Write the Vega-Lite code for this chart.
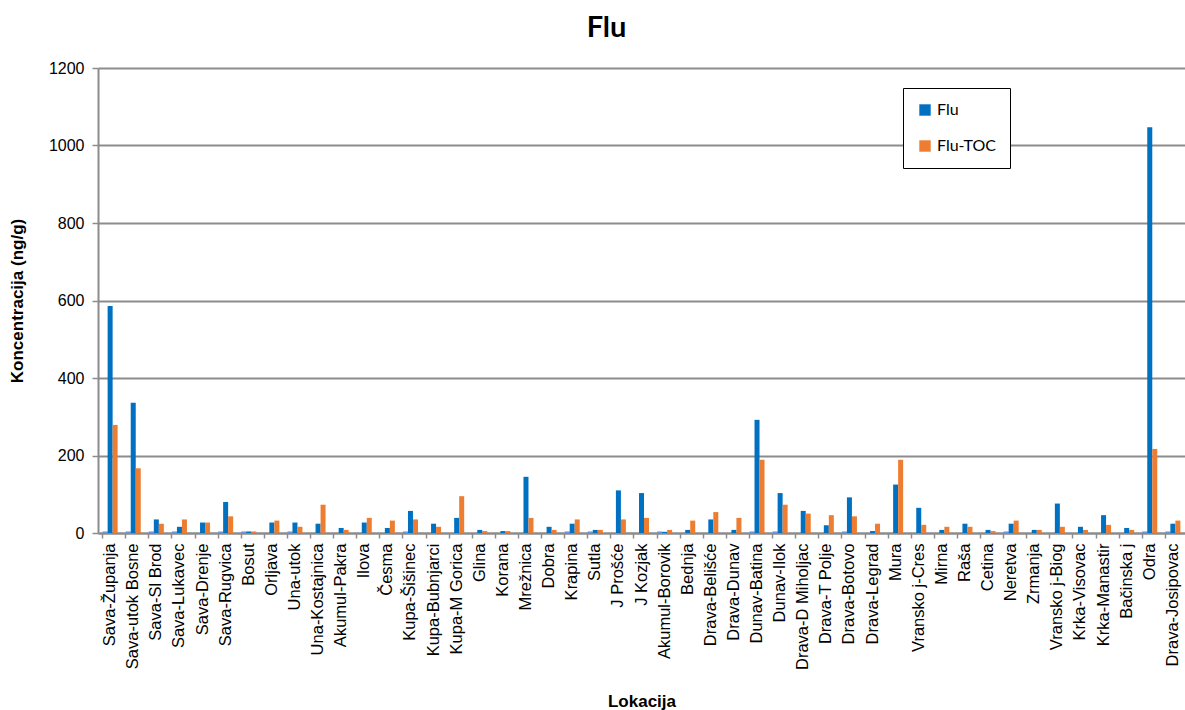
{
  "$schema": "https://vega.github.io/schema/vega-lite/v6.json",
  "width": 1087,
  "height": 465,
  "autosize": {"type": "none"},
  "padding": {"left": 98, "top": 68, "right": 0, "bottom": 177},
  "background": "white",
  "title": {"text": "Flu", "font": "Lato", "fontSize": 29, "fontWeight": "bold", "color": "black", "anchor": "middle", "dx": -35, "offset": -1},
  "config": {"view": {"stroke": null}},
  "data": {"values": [
    {"lok": "Sava-Županja", "Flu-0": 4, "Flu": 586, "Flu-TOC": 279},
    {"lok": "Sava-utok Bosne", "Flu-0": 4, "Flu": 336, "Flu-TOC": 167},
    {"lok": "Sava-Sl Brod", "Flu-0": 4, "Flu": 35, "Flu-TOC": 24},
    {"lok": "Sava-Lukavec", "Flu-0": 4, "Flu": 16, "Flu-TOC": 35},
    {"lok": "Sava-Drenje", "Flu-0": 0, "Flu": 27, "Flu-TOC": 27},
    {"lok": "Sava-Rugvica", "Flu-0": 4, "Flu": 80, "Flu-TOC": 43},
    {"lok": "Bosut", "Flu-0": 4, "Flu": 4, "Flu-TOC": 4},
    {"lok": "Orljava", "Flu-0": 0, "Flu": 27, "Flu-TOC": 32},
    {"lok": "Una-utok", "Flu-0": 4, "Flu": 27, "Flu-TOC": 16},
    {"lok": "Una-Kostajnica", "Flu-0": 0, "Flu": 24, "Flu-TOC": 73},
    {"lok": "Akumul-Pakra", "Flu-0": 0, "Flu": 13, "Flu-TOC": 8},
    {"lok": "Ilova", "Flu-0": 0, "Flu": 27, "Flu-TOC": 39},
    {"lok": "Česma", "Flu-0": 0, "Flu": 13, "Flu-TOC": 32},
    {"lok": "Kupa-Šišinec", "Flu-0": 4, "Flu": 57, "Flu-TOC": 35},
    {"lok": "Kupa-Bubnjarci", "Flu-0": 0, "Flu": 24, "Flu-TOC": 16},
    {"lok": "Kupa-M Gorica", "Flu-0": 0, "Flu": 39, "Flu-TOC": 95},
    {"lok": "Glina", "Flu-0": 0, "Flu": 8, "Flu-TOC": 5},
    {"lok": "Korana", "Flu-0": 0, "Flu": 5, "Flu-TOC": 5},
    {"lok": "Mrežnica", "Flu-0": 0, "Flu": 145, "Flu-TOC": 39},
    {"lok": "Dobra", "Flu-0": 0, "Flu": 16, "Flu-TOC": 8},
    {"lok": "Krapina", "Flu-0": 4, "Flu": 24, "Flu-TOC": 35},
    {"lok": "Sutla", "Flu-0": 4, "Flu": 8, "Flu-TOC": 8},
    {"lok": "J Prošće", "Flu-0": 0, "Flu": 110, "Flu-TOC": 35},
    {"lok": "J Kozjak", "Flu-0": 0, "Flu": 103, "Flu-TOC": 39},
    {"lok": "Akumul-Borovik", "Flu-0": 4, "Flu": 3, "Flu-TOC": 8},
    {"lok": "Bednja", "Flu-0": 0, "Flu": 8, "Flu-TOC": 32},
    {"lok": "Drava-Belišće", "Flu-0": 0, "Flu": 35, "Flu-TOC": 54},
    {"lok": "Drava-Dunav", "Flu-0": 0, "Flu": 8, "Flu-TOC": 39},
    {"lok": "Dunav-Batina", "Flu-0": 4, "Flu": 292, "Flu-TOC": 189},
    {"lok": "Dunav-Ilok", "Flu-0": 4, "Flu": 103, "Flu-TOC": 73},
    {"lok": "Drava-D Miholjac", "Flu-0": 0, "Flu": 57, "Flu-TOC": 50},
    {"lok": "Drava-T Polje", "Flu-0": 0, "Flu": 20, "Flu-TOC": 46},
    {"lok": "Drava-Botovo", "Flu-0": 4, "Flu": 92, "Flu-TOC": 43},
    {"lok": "Drava-Legrad", "Flu-0": 0, "Flu": 5, "Flu-TOC": 24},
    {"lok": "Mura", "Flu-0": 0, "Flu": 125, "Flu-TOC": 189},
    {"lok": "Vransko j-Cres", "Flu-0": 0, "Flu": 65, "Flu-TOC": 21},
    {"lok": "Mirna", "Flu-0": 0, "Flu": 8, "Flu-TOC": 16},
    {"lok": "Raša", "Flu-0": 0, "Flu": 24, "Flu-TOC": 16},
    {"lok": "Cetina", "Flu-0": 0, "Flu": 8, "Flu-TOC": 5},
    {"lok": "Neretva", "Flu-0": 4, "Flu": 24, "Flu-TOC": 32},
    {"lok": "Zrmanja", "Flu-0": 0, "Flu": 8, "Flu-TOC": 8},
    {"lok": "Vransko j-Biog", "Flu-0": 0, "Flu": 76, "Flu-TOC": 16},
    {"lok": "Krka-Visovac", "Flu-0": 0, "Flu": 16, "Flu-TOC": 8},
    {"lok": "Krka-Manastir", "Flu-0": 0, "Flu": 46, "Flu-TOC": 21},
    {"lok": "Bačinska j", "Flu-0": 0, "Flu": 13, "Flu-TOC": 8},
    {"lok": "Odra", "Flu-0": 4, "Flu": 1047, "Flu-TOC": 217},
    {"lok": "Drava-Josipovac", "Flu-0": 4, "Flu": 24, "Flu-TOC": 32}
  ]},
  "transform": [{"fold": ["Flu-0", "Flu", "Flu-TOC"], "as": ["serija", "vrijednost"]}],
  "resolve": {"axis": {"x": "independent"}},
  "layer": [
    {
      "mark": {"type": "bar", "opacity": 0},
      "encoding": {
        "x": {"field": "lok", "type": "nominal", "sort": null,
          "scale": {"paddingInner": 0.35, "paddingOuter": 0.2},
          "axis": {"orient": "bottom", "bandPosition": 0, "labels": false, "title": null, "domain": false, "grid": false, "ticks": true, "tickColor": "#8c8c8c", "tickWidth": 1.5, "tickSize": 5}},
        "y": {"field": "vrijednost", "type": "quantitative",
          "scale": {"domain": [0, 1200]},
          "axis": {"title": "Koncentracija (ng/g)", "titleFont": "Liberation Sans", "titleFontSize": 17, "titleFontWeight": "bold", "titleColor": "black", "titlePadding": 22,
            "values": [0, 200, 400, 600, 800, 1000, 1200], "format": "d", "labelFont": "Liberation Sans", "labelFontSize": 16, "labelColor": "black", "labelPadding": 8,
            "tickColor": "#8c8c8c", "tickWidth": 1.5, "tickSize": 6, "domainColor": "#8c8c8c", "domainWidth": 2,
            "gridColor": "#8c8c8c", "gridWidth": 2}}
      }
    },
    {
      "mark": {"type": "bar"},
      "encoding": {
        "x": {"field": "lok", "type": "nominal", "sort": null,
          "axis": {"orient": "bottom", "title": "Lokacija", "titleFont": "Liberation Sans", "titleFontSize": 17, "titleFontWeight": "bold", "titleColor": "black",
            "titleY": 173, "titleBaseline": "alphabetic",
            "labelAngle": -90, "labelFont": "Liberation Sans", "labelFontSize": 16.5, "labelColor": "black", "labelPadding": 10, "labelLimit": 300,
            "ticks": false, "domainColor": "#8c8c8c", "domainWidth": 2, "grid": false}},
        "xOffset": {"field": "serija", "type": "nominal", "sort": ["Flu-0", "Flu", "Flu-TOC"], "scale": {"domain": ["Flu-0", "Flu", "Flu-TOC"]}},
        "y": {"field": "vrijednost", "type": "quantitative",
          "scale": {"domain": [0, 1200]},
          "axis": {"title": "Koncentracija (ng/g)", "titleFont": "Liberation Sans", "titleFontSize": 17, "titleFontWeight": "bold", "titleColor": "black", "titlePadding": 22,
            "values": [0, 200, 400, 600, 800, 1000, 1200], "format": "d", "labelFont": "Liberation Sans", "labelFontSize": 16, "labelColor": "black", "labelPadding": 8,
            "tickColor": "#8c8c8c", "tickWidth": 1.5, "tickSize": 6, "domainColor": "#8c8c8c", "domainWidth": 2,
            "gridColor": "#8c8c8c", "gridWidth": 2}},
        "color": {"field": "serija", "type": "nominal",
          "scale": {"domain": ["Flu-0", "Flu", "Flu-TOC"], "range": ["#6f93dc", "#0070c0", "#ed7d31"]},
          "legend": {"values": ["Flu", "Flu-TOC"], "title": null, "orient": "none", "legendX": 805, "legendY": 20,
            "strokeColor": "black", "fillColor": "white", "padding": 14, "rowPadding": 20,
            "symbolType": "square", "symbolSize": 130, "symbolStrokeWidth": 0,
            "labelFont": "Lato", "labelFontSize": 16, "labelColor": "black", "labelLimit": 200}}
      }
    }
  ]
}
